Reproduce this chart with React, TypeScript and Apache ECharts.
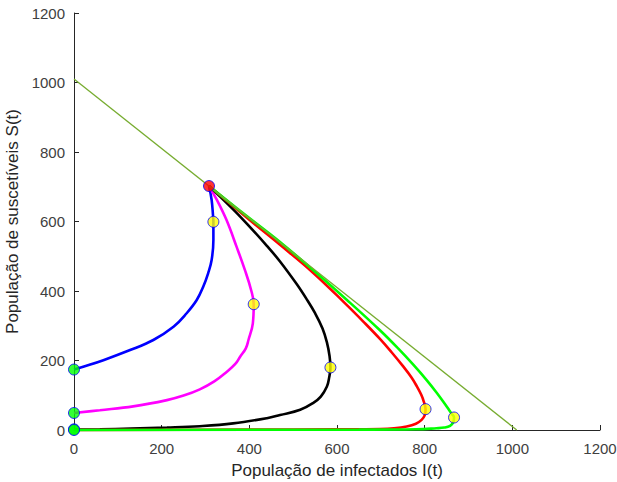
import React, { useEffect, useRef } from "react";
import * as echarts from "echarts";

const xTicks = [0, 200, 400, 600, 800, 1000, 1200];
const yTicks = [0, 200, 400, 600, 800, 1000, 1200];

// [I(t), S(t)]
const blueCurve: number[][] = [
  [308, 702], [314, 662], [317, 620], [318, 599], [318, 547], [314, 489], [306, 451],
  [295, 413], [280, 374], [257, 336], [227, 297], [181, 259], [128, 230], [67, 201],
  [21, 182], [0, 174],
];
const magentaCurve: number[][] = [
  [308, 702], [326, 662], [348, 604], [371, 527], [390, 460], [404, 403], [410, 362],
  [408, 307], [398, 259], [392, 235], [379, 211], [368, 190], [348, 167], [320, 140],
  [287, 117], [250, 99], [212, 86], [135, 68], [59, 57], [0, 49],
];
const blackCurve: number[][] = [
  [308, 702], [363, 635], [400, 586], [440, 530], [470, 485], [508, 420], [530, 378],
  [550, 336], [567, 292], [577, 252], [583, 213], [585, 180], [582, 150], [577, 125],
  [563, 96], [546, 78], [516, 58], [470, 43], [440, 34], [363, 19], [287, 11],
  [212, 7], [130, 4], [59, 2], [0, 1],
];
const redCurve: number[][] = [
  [308, 702], [400, 605], [470, 533], [546, 452], [622, 360], [660, 312], [698, 262],
  [725, 223], [751, 183], [770, 151], [782, 126], [792, 102], [798, 82], [802, 60],
  [800, 42], [793, 29], [780, 18], [759, 10], [730, 5], [698, 3], [600, 2], [400, 1], [0, 0],
];
const greenCurve: number[][] = [
  [308, 702], [400, 610], [470, 541], [546, 460], [622, 375], [698, 287], [740, 234],
  [774, 188], [805, 143], [827, 108], [845, 77], [856, 57], [862, 46], [867, 36],
  [865, 22], [858, 12], [845, 7], [827, 5], [780, 2], [650, 1], [0, 0],
];
const refLine: number[][] = [[0, 1010], [1010, 0]];

const startPoint: number[][] = [[308, 702]];
const yellowPoints: number[][] = [[318, 599], [410, 362], [585, 180], [802, 60], [867, 36]];
const greenPoints: number[][] = [[0, 174], [0, 49], [0, 2], [0, 0]];

export default function App() {
  const ref = useRef<HTMLDivElement>(null);
  useEffect(() => {
    if (!ref.current) return;
    const chart = echarts.init(ref.current, null, { renderer: "svg" });
    const font = "'Liberation Sans', Arial, Helvetica, sans-serif";
    const curve = (data: number[][], color: string) => ({
      type: "line",
      data,
      smooth: 0.4,
      showSymbol: false,
      symbol: "none",
      clip: false,
      lineStyle: { color, width: 2.6 },
      z: 3,
    });
    const axisCommon = {
      type: "value",
      min: xTicks[0],
      max: xTicks[xTicks.length - 1],
      interval: 200,
      nameLocation: "middle",
      nameTextStyle: { fontFamily: font, fontSize: 17, color: "#262626" },
      axisLine: { show: true, lineStyle: { color: "#262626", width: 1 } },
      axisTick: { show: true, inside: true, length: 5, lineStyle: { color: "#262626" } },
      axisLabel: { fontFamily: font, fontSize: 15, color: "#404040", formatter: (v: number) => String(v) },
      splitLine: { show: false },
    };
    chart.setOption({
      animation: false,
      backgroundColor: "#ffffff",
      grid: { left: 74, right: 17, top: 13, bottom: 52, containLabel: false, outerBoundsMode: "none" },
      xAxis: {
        ...axisCommon,
        name: "População de infectados I(t)",
        nameGap: 32,
        axisLabel: { ...axisCommon.axisLabel, margin: 11 },
      },
      yAxis: {
        ...axisCommon,
        min: yTicks[0],
        max: yTicks[yTicks.length - 1],
        name: "População de suscetíveis S(t)",
        nameGap: 47,
        axisLabel: { ...axisCommon.axisLabel, margin: 9 },
      },
      series: [
        curve(blueCurve, "#0000ff"),
        curve(magentaCurve, "#ff00ff"),
        curve(blackCurve, "#000000"),
        curve(redCurve, "#ff0000"),
        curve(greenCurve, "#00ff00"),
        {
          type: "line",
          data: refLine,
          showSymbol: false,
          symbol: "none",
          clip: false,
          lineStyle: { color: "#77ac30", width: 1.3 },
          z: 4,
        },
        {
          type: "scatter",
          data: greenPoints,
          symbolSize: 11,
          clip: false,
          itemStyle: { color: "#00ff00", borderColor: "#0000ff", borderWidth: 1 },
          z: 5,
        },
        {
          type: "scatter",
          data: yellowPoints,
          symbolSize: 11,
          clip: false,
          itemStyle: { color: "#ffff00", borderColor: "#0000ff", borderWidth: 1 },
          z: 5,
        },
        {
          type: "scatter",
          data: startPoint,
          symbolSize: 11,
          clip: false,
          itemStyle: { color: "#ff0000", borderColor: "#0000ff", borderWidth: 1 },
          z: 5,
        },
      ],
    });
    return () => chart.dispose();
  }, []);
  return <div ref={ref} style={{ width: 617, height: 482, position: "absolute", left: 0, top: 0 }} />;
}
